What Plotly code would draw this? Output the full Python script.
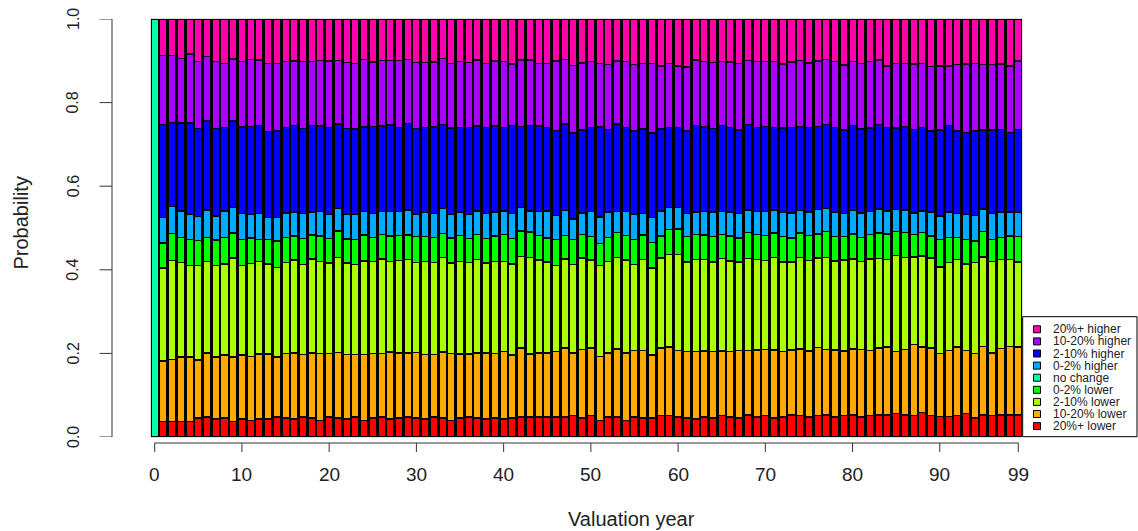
import plotly.graph_objects as go

# Valuation years shown on the x axis
years = list(range(100))

# Outcome categories, bottom of the stack first
categories = ["20%+ lower", "10-20% lower", "2-10% lower", "0-2% lower", "no change",
              "0-2% higher", "2-10% higher", "10-20% higher", "20%+ higher"]
colors = ["#FF0000", "#FFAA00", "#AAFF00", "#00FF00", "#00FFAA",
          "#00AAFF", "#0000FF", "#AA00FF", "#FF00AA"]

lower_20p = [0,
    .037, .037, .037, .037, .045, .048, .043, .045, .037, .043, .040, .043, .043, .048,
    .045, .043, .048, .045, .040, .048, .045, .043, .048, .040, .045, .048, .043, .045, .048,
    .045, .043, .048, .045, .040, .045, .048, .045, .043, .045,
    .043, .045, .048, .048, .048, .048, .048, .048, .051, .045, .051, .040, .048, .048, .040,
    .048, .045, .045, .051, .051, .048, .045, .043,
    .048, .045, .051, .048, .045, .053, .048, .051, .045, .048, .053, .051, .048, .051, .053,
    .048, .051, .053, .048, .051, .053,
    .053, .056, .053, .051, .059, .051, .049, .049, .051, .056, .045, .053, .051, .053, .053, .053]

lower_10_20 = [0,
    .145, .149, .154, .154, .139, .153, .148, .151, .154, .153, .153, .156, .156, .143,
    .155, .158, .150, .156, .160, .152, .157, .154, .150, .158, .155, .152, .160, .156, .153,
    .157, .155, .150, .158, .160, .154, .151, .156, .158, .155,
    .162, .151, .165, .151, .153, .153, .157, .165, .150, .165, .162, .153, .153, .163, .161,
    .159, .162, .151, .162, .164, .159, .159, .162,
    .158, .160, .155, .157, .162, .154, .160, .158, .163, .156, .155, .160, .158, .163, .157,
    .160, .155, .158, .162, .156, .160,
    .162, .149, .157, .170, .156, .162, .151, .158, .164, .151, .155, .163, .150, .159, .163, .162]

lower_2_10 = [0,
    .222, .236, .226, .219, .226, .219, .219, .218, .237, .214, .222, .221, .215, .215,
    .218, .222, .215, .225, .220, .216, .228, .219, .214, .223, .220, .226, .217, .221, .224,
    .215, .222, .219, .227, .216, .221, .218, .224, .215, .220,
    .215, .218, .219, .230, .222, .218, .206, .213, .211, .218, .210, .217, .219, .218, .222,
    .206, .218, .208, .215, .221, .229, .215, .219,
    .218, .214, .221, .216, .212, .220, .217, .213, .222, .215, .211, .218, .216, .214, .220,
    .213, .217, .215, .210, .219, .214,
    .209, .229, .220, .210, .218, .215, .207, .210, .210, .207, .217, .215, .219, .213, .209, .204]

lower_0_2 = [0,
    .060, .065, .060, .063, .060, .058, .061, .064, .060, .063, .061, .053, .059, .063,
    .060, .058, .062, .057, .061, .059, .063, .058, .060, .062, .057, .059, .061, .060, .058,
    .062, .059, .061, .057, .060, .062, .058, .060, .059, .061,
    .064, .061, .061, .061, .059, .057, .061, .056, .061, .056, .056, .053, .058, .060, .059,
    .060, .058, .062, .053, .060, .062, .061, .060,
    .059, .061, .058, .060, .057, .062, .059, .060, .058, .061, .057, .059, .060, .058, .061,
    .059, .057, .060, .058, .059, .061,
    .062, .057, .059, .053, .056, .053, .065, .061, .053, .059, .052, .061, .053, .053, .056, .061]

no_change = [1.0,
    0, 0, 0, 0, 0, 0, 0, 0, 0, 0, 0, 0, 0, 0, 0, 0, 0, 0, 0, 0, 0, 0, 0, 0, 0, 0, 0, 0, 0,
    0, 0, 0, 0, 0, 0, 0, 0, 0, 0, 0, 0, 0, 0, 0, 0, 0, 0, 0, 0, 0, 0, 0, 0, 0, 0, 0, 0, 0,
    0, 0, 0, 0, 0, 0, 0, 0, 0, 0, 0, 0, 0, 0, 0, 0, 0, 0, 0, 0, 0, 0, 0, 0, 0, 0, 0, 0, 0,
    0, 0, 0, 0, 0, 0, 0, 0, 0, 0, 0, 0, 0, 0, 0, 0, 0, 0, 0, 0, 0, 0, 0, 0]

higher_0_2 = [0,
    .061, .064, .064, .060, .057, .065, .058, .063, .061, .062, .057, .062, .052, .056,
    .058, .056, .060, .055, .059, .057, .054, .058, .060, .056, .058, .055, .059, .057, .060,
    .054, .058, .056, .059, .057, .055, .058, .056, .060, .057,
    .057, .060, .056, .051, .057, .065, .058, .060, .049, .052, .060, .063, .060, .050, .057,
    .060, .052, .059, .060, .053, .051, .054, .054,
    .056, .058, .055, .057, .059, .054, .056, .058, .055, .057, .060, .054, .056, .058, .055,
    .057, .054, .056, .058, .055, .057,
    .055, .053, .054, .052, .052, .057, .057, .060, .057, .060, .061, .053, .062, .060, .057, .057]

higher_2_10 = [0,
    .223, .202, .210, .218, .211, .213, .209, .200, .207, .207, .210, .210, .206, .207,
    .205, .208, .203, .207, .204, .209, .202, .206, .205, .203, .208, .204, .206, .202, .207,
    .205, .203, .208, .201, .206, .204, .207, .203, .205, .206,
    .199, .210, .194, .204, .205, .199, .203, .207, .205, .198, .201, .216, .198, .210, .201,
    .199, .202, .202, .196, .191, .191, .198, .207,
    .203, .200, .205, .202, .199, .204, .201, .203, .198, .202, .205, .200, .203, .199, .202,
    .204, .200, .203, .201, .199, .202,
    .199, .195, .199, .199, .199, .194, .205, .207, .197, .196, .202, .189, .199, .197, .191, .199]

higher_10_20 = [0,
    .164, .159, .154, .165, .161, .154, .161, .153, .148, .157, .160, .157, .162, .162,
    .158, .155, .160, .153, .157, .159, .152, .158, .156, .161, .154, .157, .155, .160, .153,
    .158, .156, .155, .159, .154, .157, .156, .158, .153, .156,
    .159, .147, .159, .157, .149, .154, .167, .154, .162, .161, .158, .151, .155, .151, .158,
    .159, .157, .167, .151, .154, .148, .153, .157,
    .156, .158, .153, .157, .160, .154, .157, .155, .158, .153, .156, .159, .154, .157, .155,
    .158, .156, .154, .157, .159, .155,
    .148, .155, .151, .157, .154, .154, .154, .143, .159, .163, .162, .157, .157, .157, .159, .164]

higher_20p = [0,
    .088, .088, .095, .084, .101, .090, .101, .106, .096, .101, .097, .098, .107, .106,
    .101, .100, .102, .102, .099, .100, .099, .104, .107, .097, .103, .099, .099, .099, .097,
    .104, .104, .103, .094, .107, .102, .104, .098, .107, .100,
    .101, .108, .098, .098, .107, .106, .100, .097, .111, .105, .102, .107, .109, .100, .102,
    .109, .106, .106, .112, .106, .112, .115, .098,
    .102, .104, .102, .103, .106, .099, .102, .102, .101, .108, .103, .099, .105, .100, .097,
    .101, .110, .101, .106, .102, .098,
    .112, .106, .107, .108, .106, .114, .112, .112, .109, .108, .106, .109, .109, .108, .112, .100]

series = [lower_20p, lower_10_20, lower_2_10, lower_0_2, no_change,
          higher_0_2, higher_2_10, higher_10_20, higher_20p]

x_ticks = [0, 10, 20, 30, 40, 50, 60, 70, 80, 90, 99]
y_ticks = [0.0, 0.2, 0.4, 0.6, 0.8, 1.0]
y_tick_labels = ["0.0", "0.2", "0.4", "0.6", "0.8", "1.0"]

W, H = 1138, 531
# plot area in pixels
L, R, T, B = 151, 1022, 19, 437
BAR_W = 0.85

FONT = "Liberation Sans, Arial, sans-serif"
INK = "#222222"
AXIS = "#333333"


def px_x(px):
    return (px - L) / (R - L)


def px_y(py):
    return (B - py) / (B - T)


fig = go.Figure()
for name, col, vals in zip(categories, colors, series):
    fig.add_trace(go.Bar(
        x=years, y=vals, name=name, width=BAR_W,
        marker=dict(color=col, line=dict(color="black", width=1.4)),
        showlegend=False, hoverinfo="x+y+name",
    ))

shapes = []
annotations = []

# light frame around the plotting region
shapes.append(dict(type="rect", xref="paper", yref="paper", x0=0, x1=1, y0=0, y1=1,
                   line=dict(color="#BEBEBE", width=1), layer="below"))

# x axis: line, ticks and labels below the plot
ax_y = px_y(443)
shapes.append(dict(type="line", xref="x", yref="paper", x0=x_ticks[0], x1=x_ticks[-1],
                   y0=ax_y, y1=ax_y, line=dict(color=AXIS, width=1)))
for t in x_ticks:
    shapes.append(dict(type="line", xref="x", yref="paper", x0=t, x1=t,
                       y0=ax_y, y1=px_y(452), line=dict(color=AXIS, width=1)))
    annotations.append(dict(x=t, xref="x", y=px_y(475), yref="paper", text=str(t),
                            showarrow=False, xanchor="center", yanchor="middle",
                            font=dict(family=FONT, size=19, color=INK)))

# y axis: line, ticks and rotated labels left of the plot
ax_x = px_x(112)
shapes.append(dict(type="line", xref="paper", yref="y", x0=ax_x, x1=ax_x,
                   y0=y_ticks[0], y1=y_ticks[-1], line=dict(color=AXIS, width=1)))
for t, lab in zip(y_ticks, y_tick_labels):
    shapes.append(dict(type="line", xref="paper", yref="y", x0=px_x(99.5), x1=ax_x,
                       y0=t, y1=t, line=dict(color=AXIS, width=1)))
    annotations.append(dict(x=px_x(73), xref="paper", y=t, yref="y", text=lab,
                            textangle=-90, showarrow=False, xanchor="center",
                            yanchor="middle", font=dict(family=FONT, size=16, color=INK)))

# axis titles
annotations.append(dict(x=px_x(631), xref="paper", y=px_y(519), yref="paper",
                        text="Valuation year", showarrow=False, xanchor="center",
                        yanchor="middle", font=dict(family=FONT, size=20, color=INK)))
annotations.append(dict(x=px_x(20.5), xref="paper", y=px_y(223), yref="paper",
                        text="Probability", textangle=-90, showarrow=False,
                        xanchor="center", yanchor="middle",
                        font=dict(family=FONT, size=20, color=INK)))

# legend box, top entry is the top of the stack
shapes.append(dict(type="rect", xref="paper", yref="paper",
                   x0=px_x(1022.7), x1=px_x(1137), y0=px_y(436.7), y1=px_y(316.7),
                   line=dict(color="black", width=1), fillcolor="white", layer="above"))
for i, (name, col) in enumerate(zip(categories[::-1], colors[::-1])):
    cy = 329.3 + 12.1 * i
    shapes.append(dict(type="rect", xref="paper", yref="paper",
                       x0=px_x(1033.5), x1=px_x(1040.5), y0=px_y(cy + 3.5), y1=px_y(cy - 3.5),
                       line=dict(color="black", width=1), fillcolor=col, layer="above"))
    annotations.append(dict(x=px_x(1051), xref="paper", y=px_y(cy), yref="paper",
                            text=name, showarrow=False, xanchor="left", yanchor="middle",
                            font=dict(family=FONT, size=12, color=INK)))

fig.update_layout(
    width=W, height=H,
    margin=dict(l=L, r=W - R, t=T, b=H - B, pad=0),
    barmode="stack",
    paper_bgcolor="white", plot_bgcolor="white",
    xaxis=dict(range=[-BAR_W / 2, 99 + BAR_W / 2], visible=False, fixedrange=True),
    yaxis=dict(range=[0, 1], visible=False, fixedrange=True),
    shapes=shapes, annotations=annotations,
    showlegend=False,
)

fig.write_html("out.html")
